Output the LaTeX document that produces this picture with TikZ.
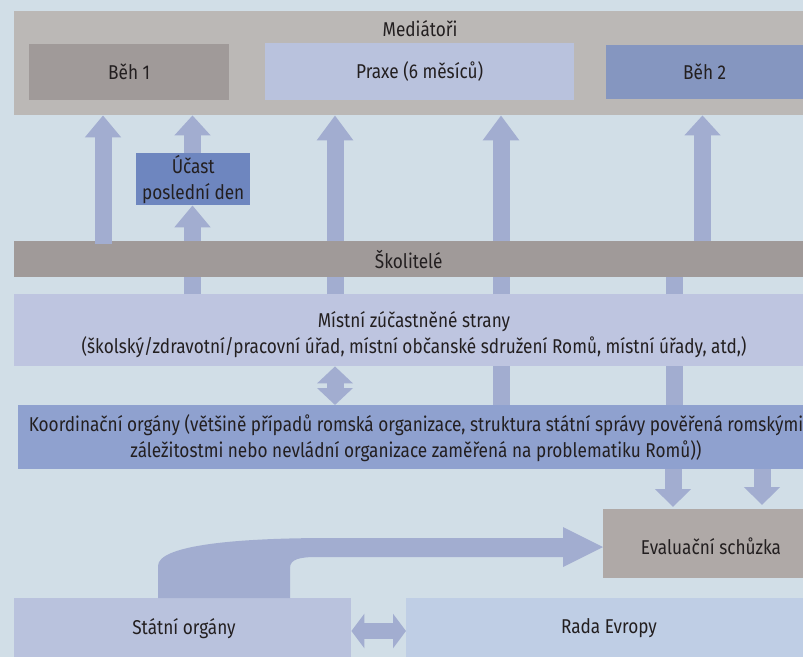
\documentclass[tikz,border=0pt]{standalone}
\usepackage{fontspec}
\setmainfont{Fira Sans}[FakeStretch=0.86]
\usetikzlibrary{arrows.meta,calc}
\definecolor{bg}{HTML}{D1DEE7}
\definecolor{medc}{HTML}{BBB8B6}
\definecolor{grayc}{HTML}{A09A99}
\definecolor{praxc}{HTML}{B9C2DD}
\definecolor{beh2c}{HTML}{8596C0}
\definecolor{arr}{HTML}{A2ADD0}
\definecolor{ucastc}{HTML}{6E86BF}
\definecolor{mistc}{HTML}{BEC5E0}
\definecolor{koordc}{HTML}{8FA1CF}
\definecolor{evalc}{HTML}{AFA9A7}
\definecolor{radac}{HTML}{BFCEE5}
\definecolor{txt}{HTML}{231F20}
\begin{document}
\begin{tikzpicture}[x=1pt,y=-1pt,
  box/.style={rectangle, inner sep=0pt, anchor=north west},
  lbl/.style={inner sep=0pt, align=center, text=txt, font=\fontsize{20}{26}\selectfont},
  shaft/.style={draw=arr, line width=17pt},
  fat/.style={draw=arr, line width=17pt, -{Triangle[width=35pt,length=22pt]}},
  dbl/.style={draw=arr, line width=17pt, {Triangle[width=35pt,length=17pt]}-{Triangle[width=35pt,length=17pt]}}]
\useasboundingbox (0,0) rectangle (803,656);
\fill[bg] (-6,-6) rectangle (810,662);
\begin{scope}
\clip (-6,-6) rectangle (803,662);
% boxes
\node[box, fill=medc, minimum width=789pt, minimum height=104pt] (med) at (14,11) {};
\node[lbl] (medl) at (420,29) {Mediátoři};
\node[box, fill=grayc, minimum width=200pt, minimum height=56pt] (beh1) at (29,44) {};
\node[lbl] at (beh1.center) {Běh 1};
\node[box, fill=praxc, minimum width=309pt, minimum height=57pt] (prax) at (265,43) {};
\node[lbl] at (prax.center) {Praxe (6 měsíců)};
\node[box, fill=beh2c, minimum width=197pt, minimum height=54pt] (beh2) at (606,45) {};
\node[lbl] at (beh2.center) {Běh 2};
\node[box, fill=ucastc, minimum width=114pt, minimum height=52pt] (ucast) at (136,153) {};
\node[lbl] at (ucast.center) {Účast\\poslední den};
\node[box, fill=grayc, minimum width=789pt, minimum height=36pt] (skol) at (14,241) {};
\node[lbl] at (skol.center) {Školitelé};
\node[box, fill=mistc, minimum width=789pt, minimum height=72pt] (mist) at (14,294) {};
\node[lbl] at (414,335) {Místní zúčastněné strany\\(školský/zdravotní/pracovní úřad, místní občanské sdružení Romů, místní úřady, atd,)};
\node[box, fill=koordc, minimum width=785pt, minimum height=64pt] (koord) at (18,405) {};
\node[lbl] at (416,438) {Koordinační orgány (většině případů romská organizace, struktura státní správy pověřená romskými\\záležitostmi nebo nevládní organizace zaměřená na problematiku Romů))};
\node[box, fill=evalc, minimum width=200pt, minimum height=69pt] (eval) at (603,509) {};
\node[lbl] at (711,546) {Evaluační schůzka};
\node[box, fill=praxc, minimum width=337pt, minimum height=64pt] (stat) at (14,598) {};
\node[lbl] at (184,629) {Státní orgány};
\node[box, fill=radac, minimum width=397pt, minimum height=64pt] (rada) at (406,598) {};
\node[lbl] at (609,628) {Rada Evropy};
% shafts under Skolitele
\foreach \xx in {192,335,501,674} \draw[shaft] (mist.north -| \xx,0) -- (skol.south -| \xx,0);
\foreach \xx in {501,674} \draw[shaft] (mist.south -| \xx,0) -- (koord.north -| \xx,0);
% up arrows
\draw[fat] ($(skol.north -| 103,0)+(0,3)$) -- (med.south -| 103,0);
\draw[fat, -{Triangle[width=35pt,length=20pt]}] (ucast.north -| 192.5,0) -- (med.south -| 192.5,0);
\draw[fat] (skol.north -| 192.5,0) -- (ucast.south -| 192.5,0);
\draw[fat, -{Triangle[width=35pt,length=25pt]}] (skol.north -| 335,0) -- (med.south -| 335,0);
\draw[fat, -{Triangle[width=35pt,length=25pt]}] (skol.north -| 501,0) -- (med.south -| 501,0);
\draw[fat, -{Triangle[width=35pt,length=20pt]}] (skol.north -| 702.5,0) -- (med.south -| 702.5,0);
% double arrows
\draw[dbl] (mist.south -| 335,0) -- (koord.north -| 335,0);
\draw[draw=arr, line width=16pt, {Triangle[width=34pt,length=13pt]}-{Triangle[width=34pt,length=13pt]}] (stat.east |- 0,631) -- (rada.west |- 0,631);
% down arrows to evaluation
\draw[fat, -{Triangle[width=35pt,length=18pt]}] (koord.south -| 673,0) -- ($(eval.north -| 673,0)+(0,-2)$);
\draw[fat, -{Triangle[width=35pt,length=18pt]}] (koord.south -| 762,0) -- ($(eval.north -| 762,0)+(0,-4)$);
% curved arrow
\fill[arr] (stat.north -| 158,0) -- (158,566) .. controls (158,546) and (230,538) .. (330,538) -- (563,538) -- (563,527) -- (eval.west |- 0,547) -- (563,567) -- (563,557) -- (317,557) .. controls (300,557) and (290,559) .. (290,568) -- (stat.north -| 290,0) -- cycle;
\end{scope}
\end{tikzpicture}
\end{document}
